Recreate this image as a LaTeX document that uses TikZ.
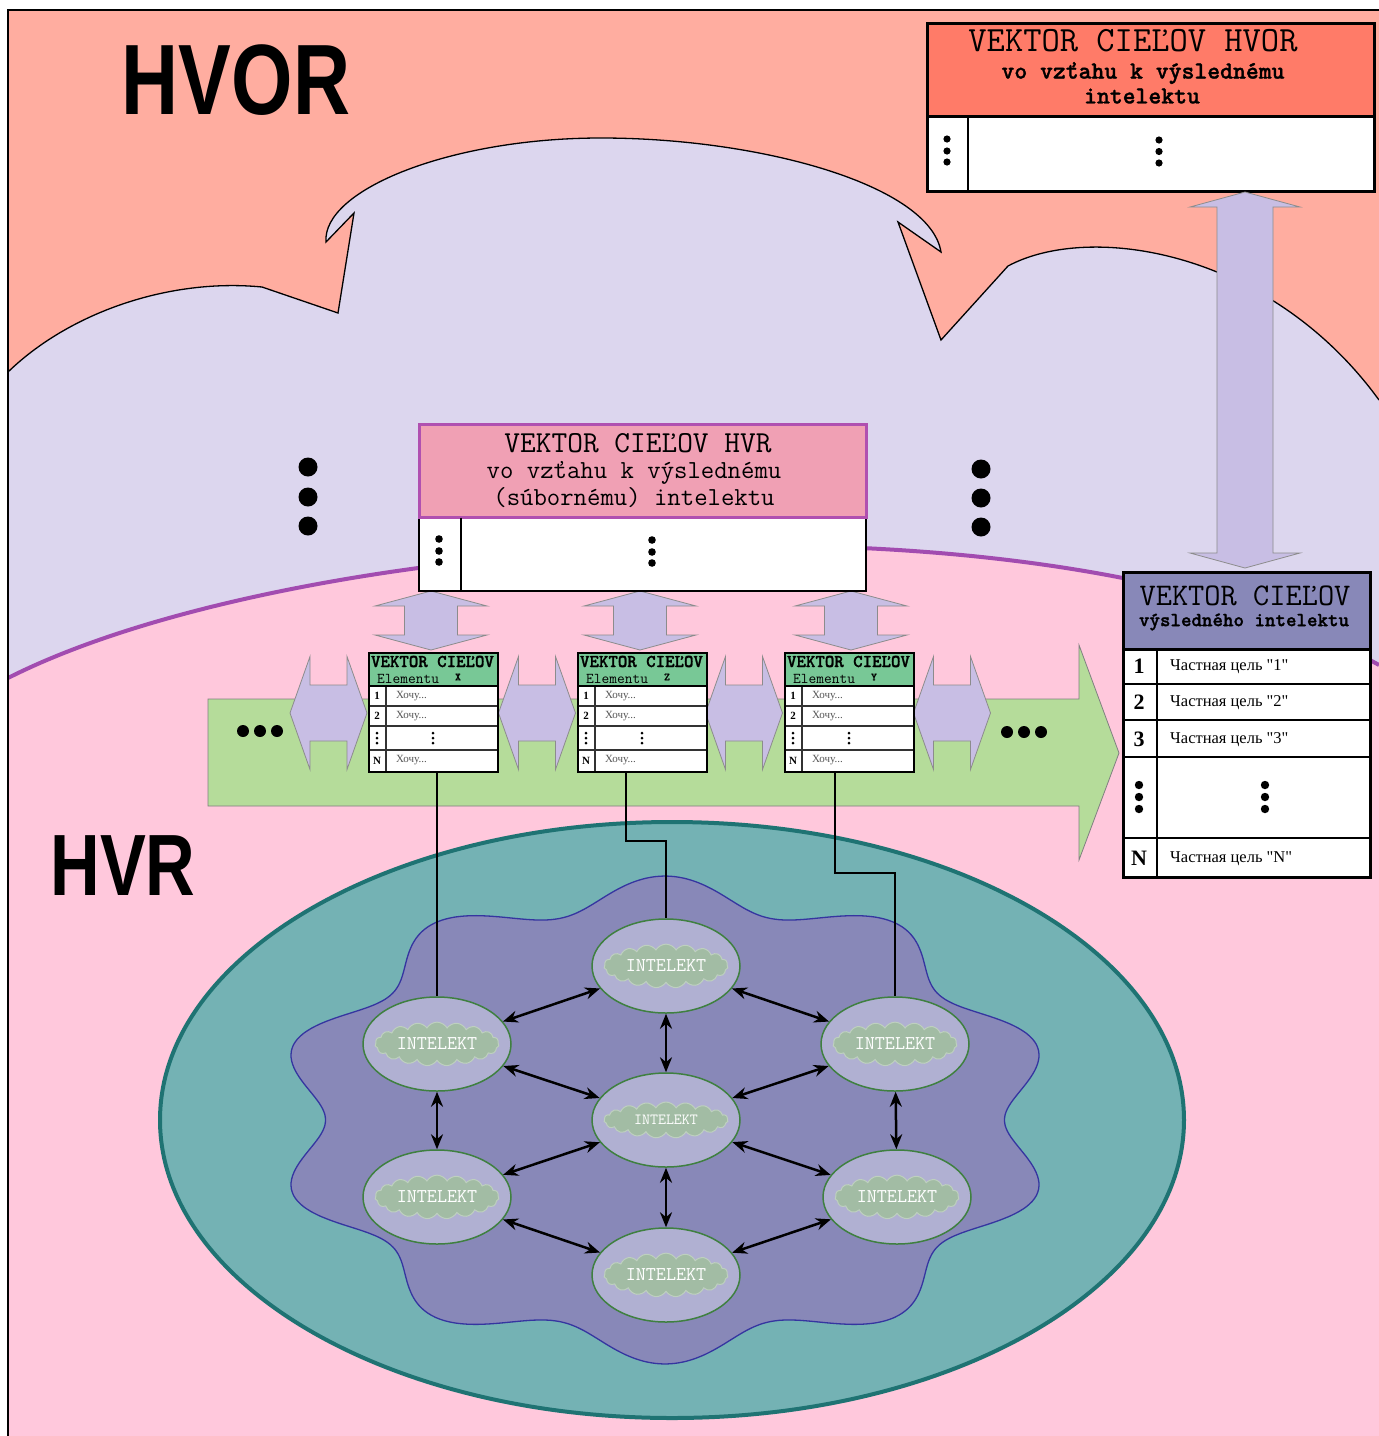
\documentclass[tikz,border=0pt]{standalone}
\usepackage{fontspec}
\setmainfont{Liberation Serif}
\newfontfamily\hvfont{Liberation Sans}
\newfontfamily\ttheavy{lmmonolt10-bold.otf}[FakeBold=1.3]
\usetikzlibrary{shapes.geometric,shapes.symbols,arrows.meta}

\definecolor{salmon}{HTML}{FFADA0}
\definecolor{lav}{HTML}{DCD6EE}
\definecolor{pinkbg}{HTML}{FFC8DC}
\definecolor{purpline}{HTML}{A24CB0}
\definecolor{grarrow}{HTML}{B5DC9A}
\definecolor{lavarrow}{HTML}{C8BEE4}
\definecolor{tealfill}{HTML}{74B2B4}
\definecolor{tealdark}{HTML}{1F7373}
\definecolor{blobfill}{HTML}{8888B8}
\definecolor{blobline}{HTML}{3535A0}
\definecolor{nodefill}{HTML}{B0B0D2}
\definecolor{nodeline}{HTML}{3F8040}
\definecolor{cloudfill}{HTML}{A2BCA4}
\definecolor{redhead}{HTML}{FF7B68}
\definecolor{pinkhead}{HTML}{F0A0B4}
\definecolor{pinkline}{HTML}{B050B0}
\definecolor{bluehead}{HTML}{8888B8}
\definecolor{greenhead}{HTML}{78C896}
\definecolor{textgray}{HTML}{555555}

\newcommand{\fs}[1]{\fontsize{#1}{#1}\selectfont}

\newcommand{\ElemBox}[3]{%
\begin{scope}[shift={(#2,652)}]
  \fill[greenhead] (0,0) rectangle (129,34);
  \fill[white] (0,34) rectangle (129,119);
  \draw[line width=1.2, black!80] (0,54) -- (129,54) (0,74) -- (129,74) (0,98) -- (129,98) (18,34) -- (18,119);
  \draw[line width=2] (0,34) -- (129,34);
  \node[draw, line width=2, minimum width=129, minimum height=119, anchor=north west, inner sep=0] (#1) at (0,0) {};
  \node[font=\ttheavy\fs{18}, inner sep=0] (#1t) at (64.5,9.5) {VEKTOR CIEĽOV};
  \node[font=\ttfamily\fs{15}, anchor=west, inner sep=0] (#1e) at (9,27) {Elementu};
  \node[font=\ttheavy\fs{11}, inner sep=0] (#1s) at (90,25) {#3};
  \node[numsm] (#1n1) at (9,44) {1};
  \node[numsm] (#1n2) at (9,64) {2};
  \node[numsm] (#1n3) at (9,108.5) {N};
  \node[rowsm] (#1r1) at (28,44) {Хочу...};
  \node[rowsm] (#1r2) at (28,64) {Хочу...};
  \node[rowsm] (#1r3) at (28,108.5) {Хочу...};
  \foreach \yy in {81,86,91} {\fill (9,\yy) circle (1.5); \fill (65,\yy) circle (1.5);}
\end{scope}}

\begin{document}
\begin{tikzpicture}[x=1pt,y=-1pt,
  numsm/.style={font=\bfseries\fs{11}, inner sep=0},
  rowsm/.style={font=\fs{11}, text=textgray, anchor=west, inner sep=0},
  arrshape/.style={fill=lavarrow, draw=black!45, line width=0.8},
  intel/.style={ellipse, draw=nodeline, line width=1.5, fill=nodefill, minimum width=148, minimum height=94, inner sep=0},
  cloudn/.style={cloud, cloud puffs=19, cloud puff arc=120, aspect=3.4, fill=cloudfill, draw=cloudfill!70!white, line width=1, minimum width=124, minimum height=36, inner sep=0, text=white, font=\ttfamily\fs{19.5}},
  biarr/.style={{Stealth[length=15pt,width=12pt]}-{Stealth[length=15pt,width=12pt]}, line width=2.5},
  conn/.style={line width=2}]
\useasboundingbox (0,0) rectangle (1379,1436);
\fill[white] (0,0) rectangle (1379,1436);
% backgrounds
\fill[pinkbg] (8,10) rectangle (1379,1436);
\fill[salmon] (8,10) -- (1379,10) -- (1379,665) .. controls (1050,480) and (300,530) .. (8,678) -- cycle;
\fill[lav] (8,372) .. controls (70,312) and (170,278) .. (262,287) -- (338,313) -- (354,213) -- (326,242) .. controls (322,190) and (450,138) .. (601,138) .. controls (760,138) and (930,185) .. (941,252) -- (898,222) -- (941,340) -- (1008,266) .. controls (1090,222) and (1270,250) .. (1379,400) -- (1379,665) .. controls (1050,480) and (300,530) .. (8,678) -- cycle;
\draw[line width=1.3] (8,372) .. controls (70,312) and (170,278) .. (262,287) -- (338,313) -- (354,213) -- (326,242) .. controls (322,190) and (450,138) .. (601,138) .. controls (760,138) and (930,185) .. (941,252) -- (898,222) -- (941,340) -- (1008,266) .. controls (1090,222) and (1270,250) .. (1379,400);
\draw[purpline, line width=4] (8,678) .. controls (300,530) and (1050,480) .. (1379,665);
\draw[line width=1.2] (1379,10) -- (8,10) -- (8,1436);

% titles
\node[font=\hvfont\bfseries\fs{100}, inner sep=0] (hvor) at (236,80) {\scalebox{0.79}[1]{HVOR}};
\node[font=\hvfont\bfseries\fs{87}, inner sep=0] (hvr) at (123,866) {\scalebox{0.79}[1]{HVR}};

% big dots
\foreach \yy in {467,497,526} \fill (308,\yy) circle (9.5);
\foreach \yy in {469,498,527} \fill (981,\yy) circle (9.5);

% top-right box
\node[draw, line width=2.5, fill=redhead, minimum width=447, minimum height=93, anchor=north west, inner sep=0] (hvH) at (926,22) {};
\node[draw, line width=2.5, fill=white, minimum width=447, minimum height=75, anchor=north west, inner sep=0] (hvB) at (926,115) {};
\draw[line width=2] (968,115) -- (968,190);
\node[font=\ttfamily\fs{35.5}, inner sep=0] (hvT1) at (1133,41) {VEKTOR CIEĽOV HVOR};
\node[font=\ttheavy\fs{24.5}, inner sep=0] (hvT2) at (1143,73) {vo vzťahu k výslednému};
\node[font=\ttheavy\fs{24.5}, inner sep=0] (hvT3) at (1142,96) {intelektu};
\foreach \yy in {139,151,162} \fill (947,\yy) circle (3.6);
\foreach \yy in {140,151.5,163} \fill (1159,\yy) circle (3.6);

% big vertical arrow
\draw[arrshape] (1245,192) -- (1300,207) -- (1273,207) -- (1273,553) -- (1300,553) -- (1245,568) -- (1190,553) -- (1217,553) -- (1217,207) -- (1190,207) -- cycle;

% teal ellipse and blob
\draw[fill=tealfill, draw=tealdark, line width=4] (672,1120) ellipse [x radius=512, y radius=298];
\draw[fill=blobfill, draw=blobline, line width=1.3] plot[domain=0:358.5, samples=240, smooth cycle, variable=\t] ({665+365*(1-0.07*cos(10*\t))*cos(\t)}, {1120+228*(1-0.07*cos(10*\t))*sin(\t)});

% green arrow
\draw[fill=grarrow, draw=black!50, line width=0.8] (208,699) -- (1079,699) -- (1079,645) -- (1119,753) -- (1079,860) -- (1079,806) -- (208,806) -- cycle;
\foreach \xx in {243,260,277} \fill (\xx,731) circle (6);
\foreach \xx in {1007,1024,1041} \fill (\xx,732) circle (6);

% horizontal double arrows
\foreach \cx in {328.5,537,744,952} {
  \draw[arrshape] (\cx-38.5,713) -- (\cx-18.5,656.5) -- (\cx-18.5,685) -- (\cx+18.5,685) -- (\cx+18.5,656.5) -- (\cx+38.5,713) -- (\cx+18.5,769.5) -- (\cx+18.5,741) -- (\cx-18.5,741) -- (\cx-18.5,769.5) -- cycle;
}
% vertical double arrows
\foreach \cx in {431,640,851} {
  \draw[arrshape] (\cx,591) -- (\cx+56,606) -- (\cx+26.5,606) -- (\cx+26.5,635) -- (\cx+56,635) -- (\cx,650) -- (\cx-56,635) -- (\cx-26.5,635) -- (\cx-26.5,606) -- (\cx-56,606) -- cycle;
}

% middle box
\node[draw, line width=2, fill=white, minimum width=447, minimum height=74, anchor=north west, inner sep=0] (mbB) at (418,516) {};
\node[draw=pinkline, line width=3, fill=pinkhead, minimum width=447, minimum height=93, anchor=north west, inner sep=0] (mbH) at (418,423) {};
\draw[line width=2] (461,517.5) -- (461,590);
\node[font=\ttfamily\fs{30.5}, inner sep=0] (mbT1) at (638,443) {VEKTOR CIEĽOV HVR};
\node[font=\ttfamily\fs{26}, inner sep=0] (mbT2) at (634,473) {vo vzťahu k výslednému};
\node[font=\ttfamily\fs{26}, inner sep=0] (mbT3) at (634,498) {(súbornému) intelektu};
\foreach \yy in {539,551,562} \fill (439,\yy) circle (3.8);
\foreach \yy in {540,552,563} \fill (652,\yy) circle (3.8);

% element boxes
\ElemBox{ebX}{368}{X}
\ElemBox{ebZ}{577}{Z}
\ElemBox{ebY}{784}{Y}

% right box
\node[draw, line width=3, fill=white, minimum width=247, minimum height=228, anchor=north west, inner sep=0] (rbB) at (1122,648) {};
\node[draw, line width=3, fill=bluehead, minimum width=247, minimum height=77, anchor=north west, inner sep=0] (rbH) at (1122,571) {};
\draw[line width=2] (1122,684) -- (1369,684) (1122,720) -- (1369,720) (1122,757) -- (1369,757) (1122,838) -- (1369,838) (1157,649) -- (1157,876);
\node[font=\ttfamily\fs{31.5}, inner sep=0] (rbT1) at (1245,596) {VEKTOR CIEĽOV};
\node[font=\ttheavy\fs{20}, inner sep=0] (rbT2) at (1244,622) {výsledného intelektu};
\node[font=\bfseries\fs{22}, inner sep=0] (rbN1) at (1139,666) {1};
\node[font=\bfseries\fs{22}, inner sep=0] (rbN2) at (1139,702) {2};
\node[font=\bfseries\fs{22}, inner sep=0] (rbN3) at (1139,739) {3};
\node[font=\bfseries\fs{22}, inner sep=0] (rbN4) at (1139,858) {N};
\node[font=\fs{16.5}, anchor=west, inner sep=0] (rbR1) at (1170,667) {Частная цель \textquotedbl 1\textquotedbl};
\node[font=\fs{16.5}, anchor=west, inner sep=0] (rbR2) at (1170,703) {Частная цель \textquotedbl 2\textquotedbl};
\node[font=\fs{16.5}, anchor=west, inner sep=0] (rbR3) at (1170,740) {Частная цель \textquotedbl 3\textquotedbl};
\node[font=\fs{16.5}, anchor=west, inner sep=0] (rbR4) at (1170,859) {Частная цель \textquotedbl N\textquotedbl};
\foreach \yy in {785,797,809} {\fill (1139,\yy) circle (4.2); \fill (1265,\yy) circle (4.2);}

% intelekt nodes
\node[intel] (nT) at (666,966) {};
\node[intel] (nUL) at (437,1044) {};
\node[intel] (nUR) at (895,1044) {};
\node[intel] (nC) at (666,1120) {};
\node[intel] (nLL) at (437,1197) {};
\node[intel] (nLR) at (897,1197) {};
\node[intel] (nB) at (666,1275) {};
\node[cloudn] (cT) at (nT) {INTELEKT};
\node[cloudn] (cUL) at (nUL) {INTELEKT};
\node[cloudn] (cUR) at (nUR) {INTELEKT};
\node[cloudn, font=\ttfamily\fs{15.5}] (cC) at (nC) {INTELEKT};
\node[cloudn] (cLL) at (nLL) {INTELEKT};
\node[cloudn] (cLR) at (nLR) {INTELEKT};
\node[cloudn] (cB) at (nB) {INTELEKT};

% connectors from element boxes
\coordinate (zs) at (626,771);
\coordinate (ys) at (835,771);
\draw[conn] (nUL.north |- ebX.south) -- (nUL.north);
\draw[conn] (zs) -- ++(0,70) -| (nT.north);
\draw[conn] (ys) -- ++(0,102) -| (nUR.north);

% network arrows
\foreach \a/\b in {nT/nUL, nT/nUR, nT/nC, nUL/nC, nUR/nC, nUL/nLL, nUR/nLR, nC/nLL, nC/nLR, nC/nB, nLL/nB, nLR/nB}
  \draw[biarr] (\a) -- (\b);
\end{tikzpicture}
\end{document}
